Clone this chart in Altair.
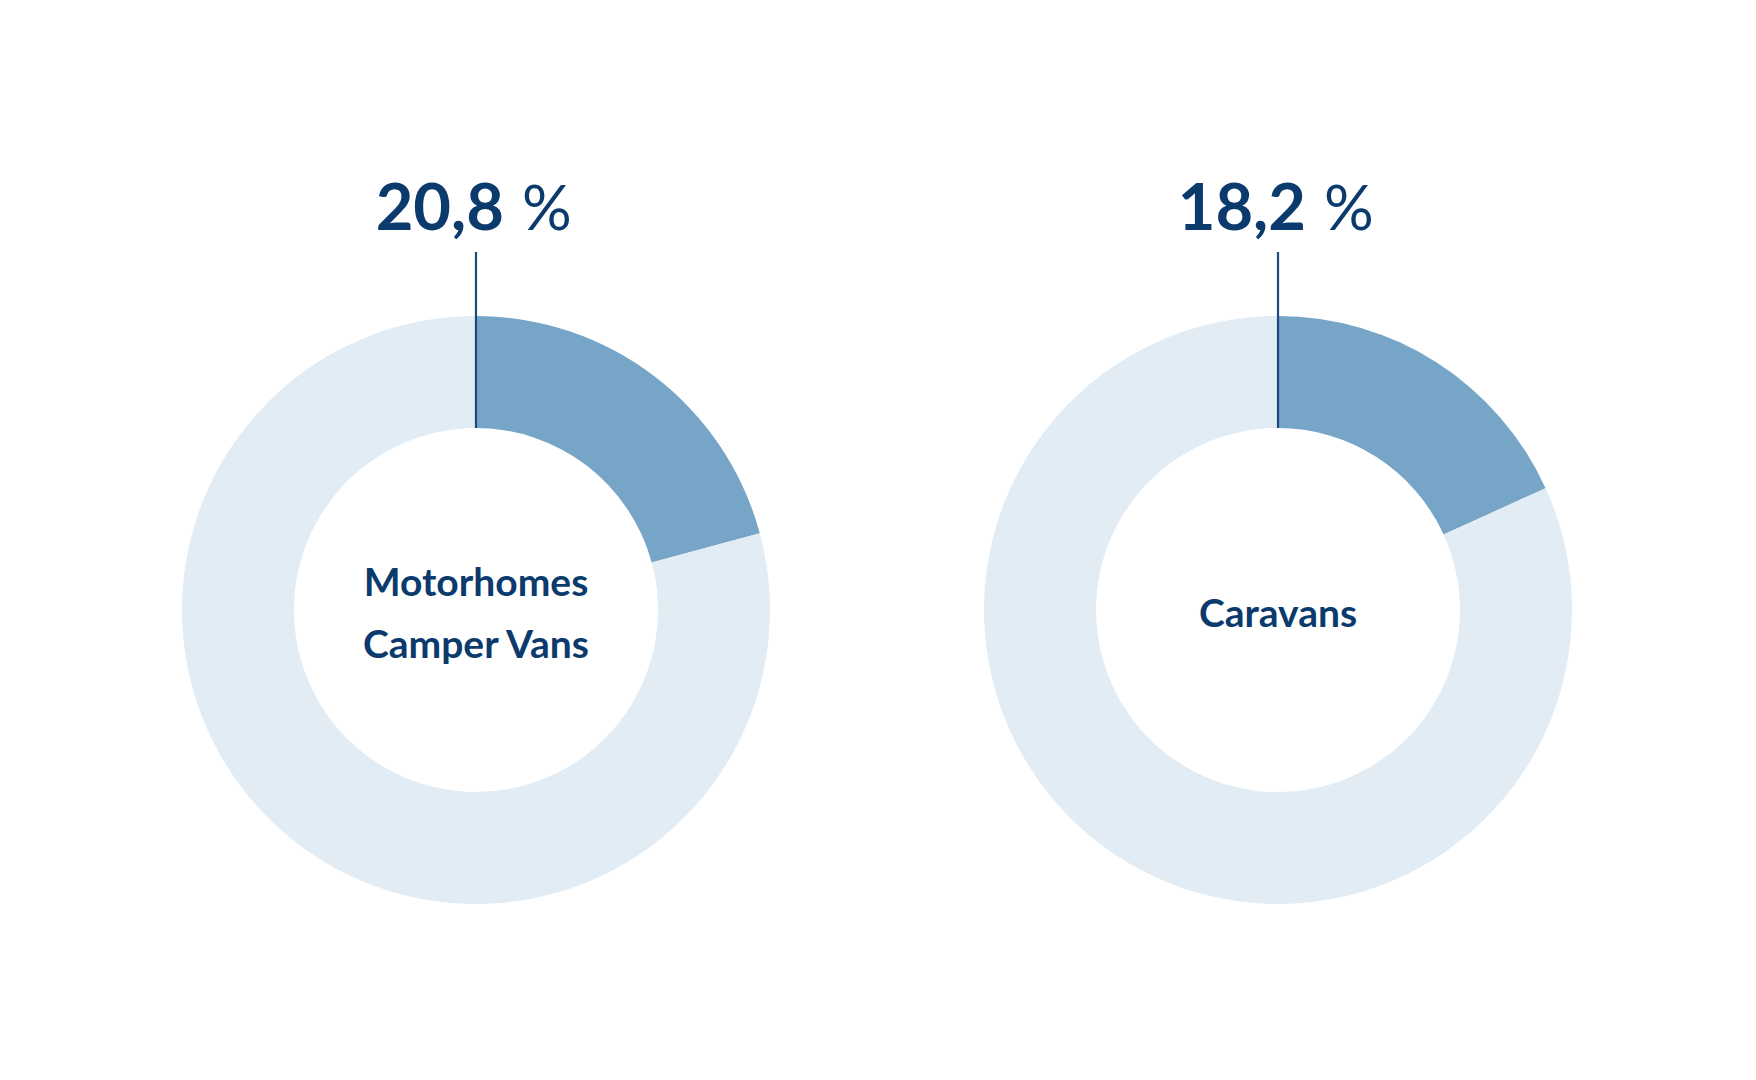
import altair as alt
import pandas as pd

charts = ["Motorhomes\nCamper Vans", "Caravans"]
shares = [20.8, 18.2]
share_labels = ["20,8", "18,2"]

rows = []
for c, s in zip(charts, shares):
    rows.append({"chart": c, "segment": "share", "value": s, "order": 0})
    rows.append({"chart": c, "segment": "rest", "value": round(100 - s, 1), "order": 1})
arc_df = pd.DataFrame(rows)
lab_df = pd.DataFrame({"chart": charts, "num": share_labels, "pct": ["%"] * len(charts)})

line_rows = []
for c in charts:
    parts = c.split("\n")
    n = len(parts)
    for i, p in enumerate(parts):
        line_rows.append({"chart": c, "line": p, "offset": i - (n - 1) / 2})
line_df = pd.DataFrame(line_rows)

TEXT = "#0b3a6d"
FONT = "Lato"

xenc = alt.X("chart:N", scale=alt.Scale(type="point", padding=0.5835, domain=charts), axis=None)

arcs = alt.Chart(arc_df).transform_stack(
    stack="value", as_=["v0", "v1"], groupby=["chart"], sort=[alt.SortField("order", order="ascending")]
).mark_arc(radius=294, radius2=182, stroke=None).encode(
    x=xenc,
    y=alt.value(602),
    theta=alt.Theta("v0:Q", scale=alt.Scale(domain=[0, 100])),
    theta2="v1:Q",
    color=alt.Color("segment:N", scale=alt.Scale(domain=["share", "rest"], range=["#77a5c8", "#e1ecf5"]), legend=None),
)

base = alt.Chart(lab_df)

rule = base.mark_rule(color="#1a4a7e", strokeWidth=2.2).encode(
    x=xenc, y=alt.value(244), y2=alt.value(420)
)

num = base.mark_text(font=FONT, fontWeight="bold", fontSize=65, color=TEXT, align="right", baseline="alphabetic", dx=28).encode(
    x=xenc, y=alt.value(222), text="num:N"
)
pct = base.mark_text(font=FONT, fontWeight="normal", fontSize=62, color=TEXT, align="left", baseline="alphabetic", dx=46).encode(
    x=xenc, y=alt.value(222), text="pct:N"
)
center = alt.Chart(line_df).mark_text(font=FONT, fontWeight="bold", fontSize=39, color=TEXT, align="center", baseline="middle").encode(
    x=xenc,
    y=alt.Y("offset:Q", scale=alt.Scale(domain=[-0.5, 0.5], range=[576, 638]), axis=None),
    text="line:N",
)

chart = alt.layer(arcs, rule, num, pct, center).properties(
    width=1738, height=1060, autosize=alt.AutoSizeParams(type="none"), padding=0
).configure_view(stroke=None)

chart.save("out.html", embed_options={"renderer": "svg", "actions": False})
